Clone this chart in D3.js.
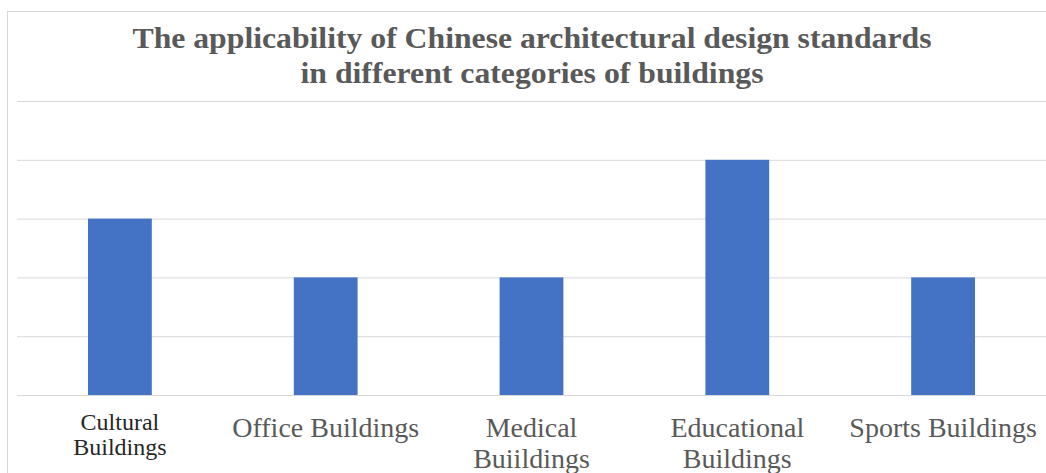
<!DOCTYPE html>
<html>
<head>
<meta charset="utf-8">
<script src="https://cdn.jsdelivr.net/npm/d3@7"></script>
<style>
    body { margin: 0; background: #fff; }
    svg { display: block; }
</style>
</head>
<body>
<div id="chart"></div>
<script>
// Chart data
const titleLines = ["The applicability of Chinese architectural design standards", "in different categories of buildings"];
const categories = ["Cultural Buildings", "Office Buildings", "Medical Buiildings", "Educational Buildings", "Sports Buildings"];
// how each tick label is broken into lines
const tickLines = [["Cultural", "Buildings"], ["Office Buildings"], ["Medical", "Buiildings"], ["Educational", "Buildings"], ["Sports Buildings"]];
const values = [3, 2, 2, 4, 2];
const yTicks = [0, 1, 2, 3, 4, 5];

const width = 1046, height = 473;
const margin = {top: 101, right: 0, bottom: 78, left: 17};
const plotW = width - margin.left - margin.right;
const plotH = height - margin.top - margin.bottom;
const serif = "'Liberation Serif', 'Times New Roman', serif";

const svg = d3.select("#chart").append("svg")
    .attr("width", width)
    .attr("height", height);

// outer chart border (cropped at right/bottom in the reference)
svg.append("rect")
    .attr("x", 7.5).attr("y", 11.5)
    .attr("width", width + 10).attr("height", height + 10)
    .attr("fill", "none")
    .attr("stroke", "#d9d9d9");

// title, stretched to the widths seen in the reference
const titleWidths = [799, 463];
svg.append("g")
    .selectAll("text")
    .data(titleLines)
    .join("text")
        .attr("text-anchor", "middle")
        .attr("font-family", serif)
        .attr("font-weight", "bold")
        .attr("font-size", 30)
        .attr("fill", "#595959")
        .attr("x", 532)
        .attr("y", (d, i) => 48 + i * 35)
        .attr("textLength", (d, i) => titleWidths[i])
        .attr("lengthAdjust", "spacingAndGlyphs")
        .text(d => d);

const g = svg.append("g")
    .attr("transform", `translate(${margin.left},${margin.top})`);

const x = d3.scaleBand()
    .domain(categories)
    .range([0, plotW])
    .paddingInner(0.69)
    .paddingOuter(0.345);

const y = d3.scaleLinear()
    .domain([0, 5])
    .range([plotH, 0]);

// gridlines
g.append("g")
    .attr("class", "grid")
    .call(d3.axisLeft(y).tickValues(yTicks).tickSize(-plotW).tickFormat(""))
    .call(a => a.select(".domain").remove())
    .call(a => a.selectAll("line").attr("stroke", "#d9d9d9").attr("stroke-width", 1));

// bars
g.selectAll(".bar")
    .data(values)
    .join("rect")
        .attr("class", "bar")
        .attr("x", (d, i) => x(categories[i]))
        .attr("y", d => y(d))
        .attr("width", x.bandwidth())
        .attr("height", d => y(0) - y(d))
        .attr("fill", "#4472c4");

// category axis
const xAxis = g.append("g")
    .attr("transform", `translate(0,${plotH})`)
    .call(d3.axisBottom(x).tickSize(0).tickFormat(""));
xAxis.attr("font-family", serif);
xAxis.select(".domain").attr("stroke", "#d9d9d9");

xAxis.selectAll(".tick").each(function(d, i) {
    const lines = tickLines[i];
    const small = i === 0;
    d3.select(this).append("text")
        .attr("text-anchor", "middle")
        .style("font-family", serif)
        .attr("font-size", small ? 24 : 28)
        .attr("fill", small ? "#262626" : "#595959")
        .selectAll("tspan")
        .data(lines)
        .join("tspan")
            .attr("x", 0)
            .attr("y", (t, j) => small ? 35 + j * 25 : 42 + j * 31)
            .text(t => t);
});
</script>
</body>
</html>
